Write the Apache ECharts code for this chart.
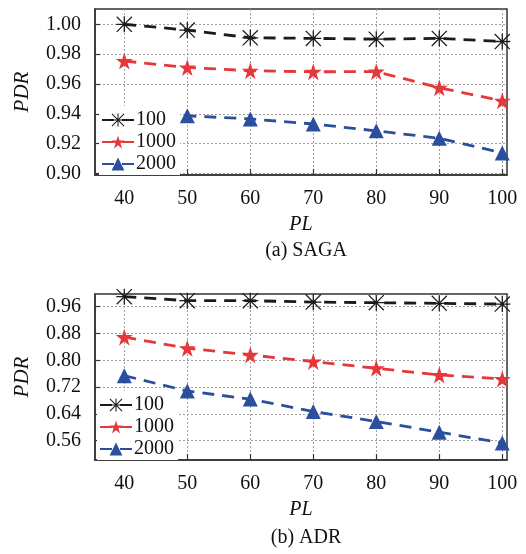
<!DOCTYPE html>
<html>
<head>
<meta charset="utf-8">
<script src="https://cdn.jsdelivr.net/npm/echarts@6/dist/echarts.min.js"></script>
<style>
html,body{margin:0;padding:0;background:#fff;}
#c{width:526px;height:554px;}
</style>
</head>
<body>
<div id="c"></div>
<script>
// ---- data ----
const plValues = [40, 50, 60, 70, 80, 90, 100];
const seriesNames = ['100', '1000', '2000'];
const sagaS100  = [1.000, 0.9962, 0.991, 0.9906, 0.9901, 0.9906, 0.9885];
const sagaS1000 = [0.9754, 0.9711, 0.9689, 0.9682, 0.9683, 0.9575, 0.9487];
const sagaS2000 = [0.939, 0.9387, 0.9366, 0.9332, 0.9286, 0.9236, 0.9138];
const adrS100  = [0.990, 0.978, 0.978, 0.974, 0.972, 0.970, 0.968];
const adrS1000 = [0.869, 0.836, 0.816, 0.796, 0.776, 0.756, 0.744];
const adrS2000 = [0.754, 0.708, 0.684, 0.647, 0.617, 0.585, 0.553];
const sagaTicks = [0.90, 0.92, 0.94, 0.96, 0.98, 1.00];
const adrTicks = [0.56, 0.64, 0.72, 0.80, 0.88, 0.96];
const captions = ['(a) SAGA', '(b) ADR'];

// ---- styles ----
const FONT = '"Liberation Serif", "Times New Roman", serif';
const FS = 20;
const colors = ['#1b1b1b', '#e5383b', '#2b4f9e'];
const asterisk = 'path://M9.2,0 L10.8,0 L10.8,20 L9.2,20 Z M0,9.2 L20,9.2 L20,10.8 L0,10.8 Z M1.1,0 L20,18.9 L18.9,20 L0,1.1 Z M18.9,0 L20,1.1 L1.1,20 L0,18.9 Z';
const star = 'path://M10,0 L12.35,7.1 L19.8,7.1 L13.8,11.6 L16.1,18.8 L10,14.3 L3.9,18.8 L6.2,11.6 L0.2,7.1 L7.65,7.1 Z';
const symbols = [asterisk, star, 'triangle'];
const symSizes = [16, 17, 15];

const pair = v => plValues.map((x, i) => [x, v[i]]);

function makeSeries(idx, datas) {
  return datas.map((d, k) => ({
    name: seriesNames[k],
    type: 'line',
    xAxisIndex: idx, yAxisIndex: idx,
    data: pair(d),
    symbol: symbols[k],
    symbolSize: symSizes[k],
    showAllSymbol: true,
    clip: false,
    itemStyle: { color: colors[k] },
    lineStyle: { color: colors[k], width: 2.8, type: [12, 8] },
    z: 3
  }));
}

const grids = [
  { left: 95, right: 19, top: 9, height: 166 },
  { left: 95, right: 19, top: 294, height: 166 }
];

function xAx(i) {
  return {
    type: 'value', gridIndex: i, min: 35.35, max: 100.75,
    name: 'PL', nameLocation: 'middle', nameGap: 40,
    nameTextStyle: { fontFamily: FONT, fontStyle: 'italic', fontSize: FS, color: '#111' },
    axisLine: { show: true, lineStyle: { color: '#333', width: 1.5 } },
    axisTick: { show: true, inside: true, length: 6, customValues: plValues, lineStyle: { color: '#333', width: 1.2 } },
    axisLabel: { customValues: plValues, fontFamily: FONT, fontSize: FS, color: '#111', margin: 14 },
    splitLine: { show: true, lineStyle: { color: '#a0a0a0', type: [2, 2], width: 1 } }
  };
}
function yAx(i, mn, mx, ticks) {
  return {
    type: 'value', gridIndex: i, min: mn, max: mx,
    name: 'PDR', nameLocation: 'middle', nameGap: 62,
    nameTextStyle: { fontFamily: FONT, fontStyle: 'italic', fontSize: FS + 1, color: '#111' },
    axisLine: { show: true, lineStyle: { color: '#333', width: 1.5 } },
    axisTick: { show: true, inside: true, length: 5, customValues: ticks, lineStyle: { color: '#333', width: 1.2 } },
    axisLabel: { customValues: ticks, fontFamily: FONT, fontSize: FS, color: '#111', margin: 14,
      formatter: v => v.toFixed(2) },
    splitLine: { show: true, lineStyle: { color: '#a0a0a0', type: [2, 2], width: 1 } }
  };
}

function legend(top, left) {
  return {
    data: seriesNames.map(n => ({ name: n })),
    orient: 'vertical', left: left, top: top,
    padding: [4, 4, 1, 2],
    itemGap: 2, itemWidth: 32, itemHeight: 16,
    backgroundColor: '#fff',
    textStyle: { fontFamily: FONT, fontSize: FS, color: '#111', lineHeight: 19, padding: [0, 0, 0, -3] },
    z: 10
  };
}

const option = {
  animation: false,
  backgroundColor: '#fff',
  grid: grids.map(g => Object.assign({ show: true, borderColor: '#333', borderWidth: 1.5, backgroundColor: '#fff' }, g)),
  xAxis: [xAx(0), xAx(1)],
  yAxis: [yAx(0, 0.899, 1.0103, sagaTicks), yAx(1, 0.502, 0.998, adrTicks)],
  legend: [legend(106, 99), legend(391, 97)],
  title: [
    { text: captions[0], left: 301, top: 236, textAlign: 'center',
      textStyle: { fontFamily: FONT, fontSize: FS, fontWeight: 'normal', color: '#111' } },
    { text: captions[1], left: 301, top: 523, textAlign: 'center',
      textStyle: { fontFamily: FONT, fontSize: FS, fontWeight: 'normal', color: '#111' } }
  ],
  series: [
    ...makeSeries(0, [sagaS100, sagaS1000, sagaS2000]),
    ...makeSeries(1, [adrS100, adrS1000, adrS2000])
  ]
};

const chart = echarts.init(document.getElementById('c'), null, { renderer: 'canvas' });
chart.setOption(option);
</script>
</body>
</html>
